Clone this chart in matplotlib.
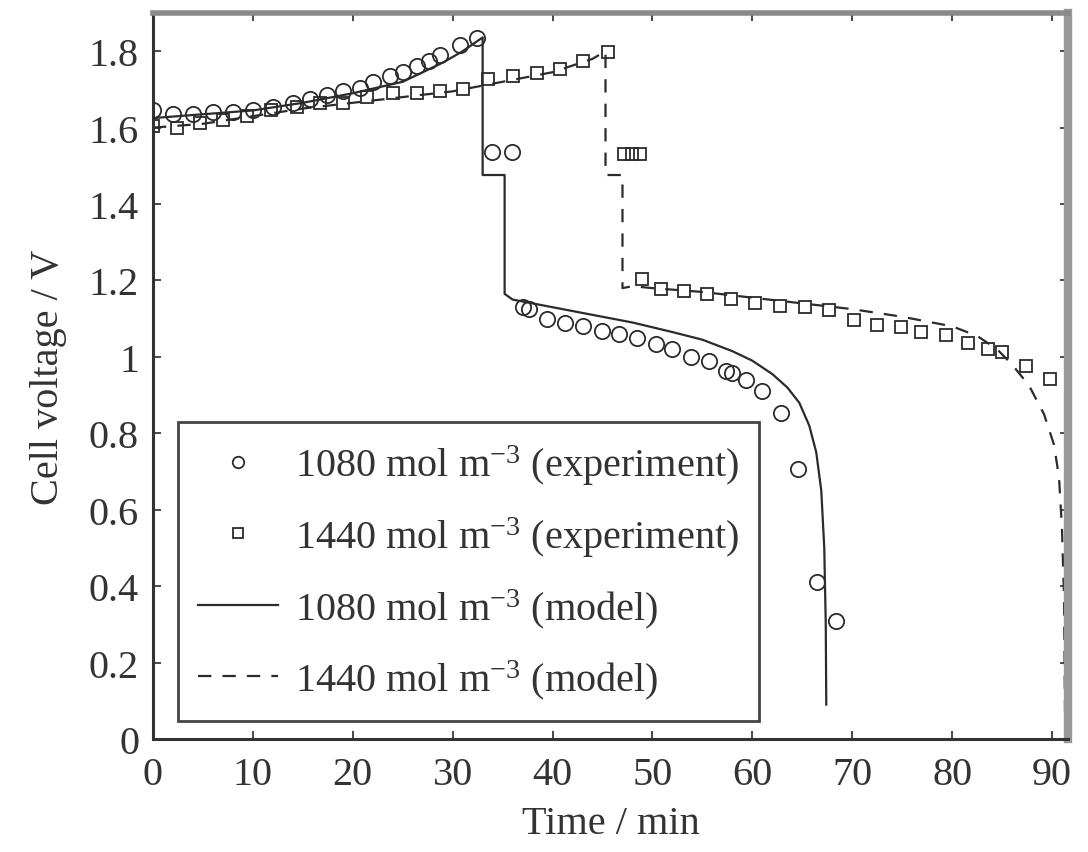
import matplotlib
matplotlib.use("Agg")
import matplotlib.pyplot as plt
import numpy as np

plt.rcParams['font.family'] = ['Liberation Serif', 'DejaVu Serif']
plt.rcParams['mathtext.fontset'] = 'custom'
plt.rcParams['mathtext.rm'] = 'Liberation Serif'
plt.rcParams['mathtext.it'] = 'Liberation Serif:italic'

# 1080 mol m-3 experiment (circles)
t_exp_1080 = [0, 2, 4, 6, 8, 10, 12, 14, 15.7, 17.4, 19, 20.7, 22, 23.7, 25, 26.4, 27.6, 28.7, 30.7, 32.4,
              33.9, 35.9,
              37.0, 37.6, 39.4, 41.2, 43, 44.9, 46.7, 48.5, 50.4, 52, 53.9, 55.7, 57.4, 58.0, 59.4, 61.0,
              62.9, 64.6, 66.5, 68.4]
v_exp_1080 = [1.645, 1.635, 1.635, 1.64, 1.64, 1.645, 1.655, 1.665, 1.675, 1.685, 1.695, 1.705, 1.72, 1.735,
              1.745, 1.76, 1.775, 1.79, 1.815, 1.835,
              1.537, 1.537,
              1.13, 1.125, 1.10, 1.09, 1.08, 1.067, 1.059, 1.05, 1.033, 1.02, 1.0, 0.99, 0.962, 0.957, 0.94,
              0.91, 0.852, 0.706, 0.41, 0.308]

# 1440 mol m-3 experiment (squares)
t_exp_1440 = [0, 2.4, 4.7, 7.0, 9.4, 11.8, 14.4, 16.7, 19.0, 21.4, 24.0, 26.4, 28.7, 31.0, 33.5, 36.0,
              38.4, 40.7, 43.0, 45.5,
              47.2, 48.0, 48.8,
              49.0, 50.9, 53.2, 55.5, 57.9, 60.3, 62.8, 65.3, 67.7, 70.2, 72.5, 74.9, 76.9, 79.4, 81.6,
              83.6, 85.0, 87.4, 89.8]
v_exp_1440 = [1.603, 1.60, 1.613, 1.62, 1.63, 1.645, 1.655, 1.665, 1.665, 1.68, 1.69, 1.69, 1.695, 1.70,
              1.726, 1.735, 1.744, 1.753, 1.775, 1.797,
              1.53, 1.53, 1.53,
              1.204, 1.178, 1.173, 1.165, 1.152, 1.141, 1.133, 1.131, 1.124, 1.097, 1.084, 1.077, 1.064,
              1.057, 1.037, 1.02, 1.012, 0.977, 0.942]

# 1080 mol m-3 model (solid)
t_mod_1080 = [0, 5, 10, 15, 20, 25, 29, 31, 33.0, 33.0, 35.2, 35.2, 36, 38, 40, 44, 48, 52, 55, 58, 60,
              62, 63.5, 64.7, 65.7, 66.4, 66.9, 67.2, 67.35, 67.4]
v_mod_1080 = [1.625, 1.635, 1.645, 1.665, 1.69, 1.72, 1.77, 1.80, 1.836, 1.476, 1.476, 1.165, 1.15, 1.14,
              1.13, 1.11, 1.09, 1.065, 1.045, 1.015, 0.99, 0.955, 0.92, 0.88, 0.82, 0.75, 0.65, 0.5, 0.3, 0.09]

# 1440 mol m-3 model (dashed)
t_mod_1440 = [0, 5, 10, 15, 20, 25, 30, 35, 40, 44, 45.3, 45.3, 47.0, 47.0, 48, 50, 55, 60, 65, 70, 75,
              80, 82.5, 84.5, 86, 87.7, 89.2, 90.2, 90.7, 91.0, 91.2, 91.3]
v_mod_1440 = [1.60, 1.61, 1.63, 1.65, 1.665, 1.68, 1.695, 1.72, 1.745, 1.78, 1.80, 1.476, 1.476, 1.18,
              1.185, 1.18, 1.17, 1.155, 1.14, 1.125, 1.105, 1.08, 1.055, 1.02, 0.98, 0.925, 0.85, 0.77,
              0.685, 0.55, 0.37, 0.07]

lab_1080_exp = '1080 mol m$^{-3}$ (experiment)'
lab_1440_exp = '1440 mol m$^{-3}$ (experiment)'
lab_1080_mod = '1080 mol m$^{-3}$ (model)'
lab_1440_mod = '1440 mol m$^{-3}$ (model)'

ink = '#2b2b2b'
fs = 29

fig = plt.figure(figsize=(10.88, 8.53), dpi=100)
ax = fig.add_axes([153/1088, 1 - 740/853, 915/1088, 726/853])

ax.plot(t_mod_1080, v_mod_1080, '-', color=ink, lw=1.6, label=lab_1080_mod, zorder=2)
ax.plot(t_mod_1440, v_mod_1440, '--', color=ink, lw=1.6, dashes=(6, 5), label=lab_1440_mod, zorder=2)
ax.plot(t_exp_1080, v_exp_1080, 'o', ms=11, mfc='none', mec=ink, mew=1.3, label=lab_1080_exp, zorder=3)
ax.plot(t_exp_1440, v_exp_1440, 's', ms=9, mfc='none', mec=ink, mew=1.3, label=lab_1440_exp, zorder=3)

ax.set_xlim(0, 91.6)
ax.set_ylim(0, 1.9)
ax.set_xticks(np.arange(0, 91, 10))
ax.set_yticks(np.arange(0, 1.81, 0.2))
ax.set_yticklabels(['0', '0.2', '0.4', '0.6', '0.8', '1', '1.2', '1.4', '1.6', '1.8'])
ax.tick_params(direction='in', length=6, width=1.2, colors=ink, labelsize=fs,
               top=True, right=True, labelcolor='#333333')
ax.tick_params(axis='x', pad=12)
ax.tick_params(axis='y', pad=10)

for s in ['left', 'bottom']:
    ax.spines[s].set_color('#333333')
    ax.spines[s].set_linewidth(2.2)
ax.spines['top'].set_color('#8a8a8a')
ax.spines['top'].set_linewidth(4)
ax.spines['right'].set_color('#999999')
ax.spines['right'].set_linewidth(6)

ax.set_xlabel('Time / min', fontsize=fs, color='#333333', labelpad=9)
ax.set_ylabel('Cell voltage / V', fontsize=fs, color='#333333', labelpad=16)

h, l = ax.get_legend_handles_labels()
order = [2, 3, 0, 1]
leg = ax.legend([h[i] for i in order], [l[i] for i in order], loc='lower left',
                bbox_to_anchor=(0.027, 0.025), fontsize=fs, frameon=True, fancybox=False,
                edgecolor='#444444', framealpha=1, markerscale=0.75, handlelength=2.0,
                handletextpad=0.4, labelspacing=0.68, borderpad=0.5, borderaxespad=0)
leg.get_frame().set_linewidth(2)
for txt in leg.get_texts():
    txt.set_color('#333333')

fig.savefig('out.png', dpi=100)
